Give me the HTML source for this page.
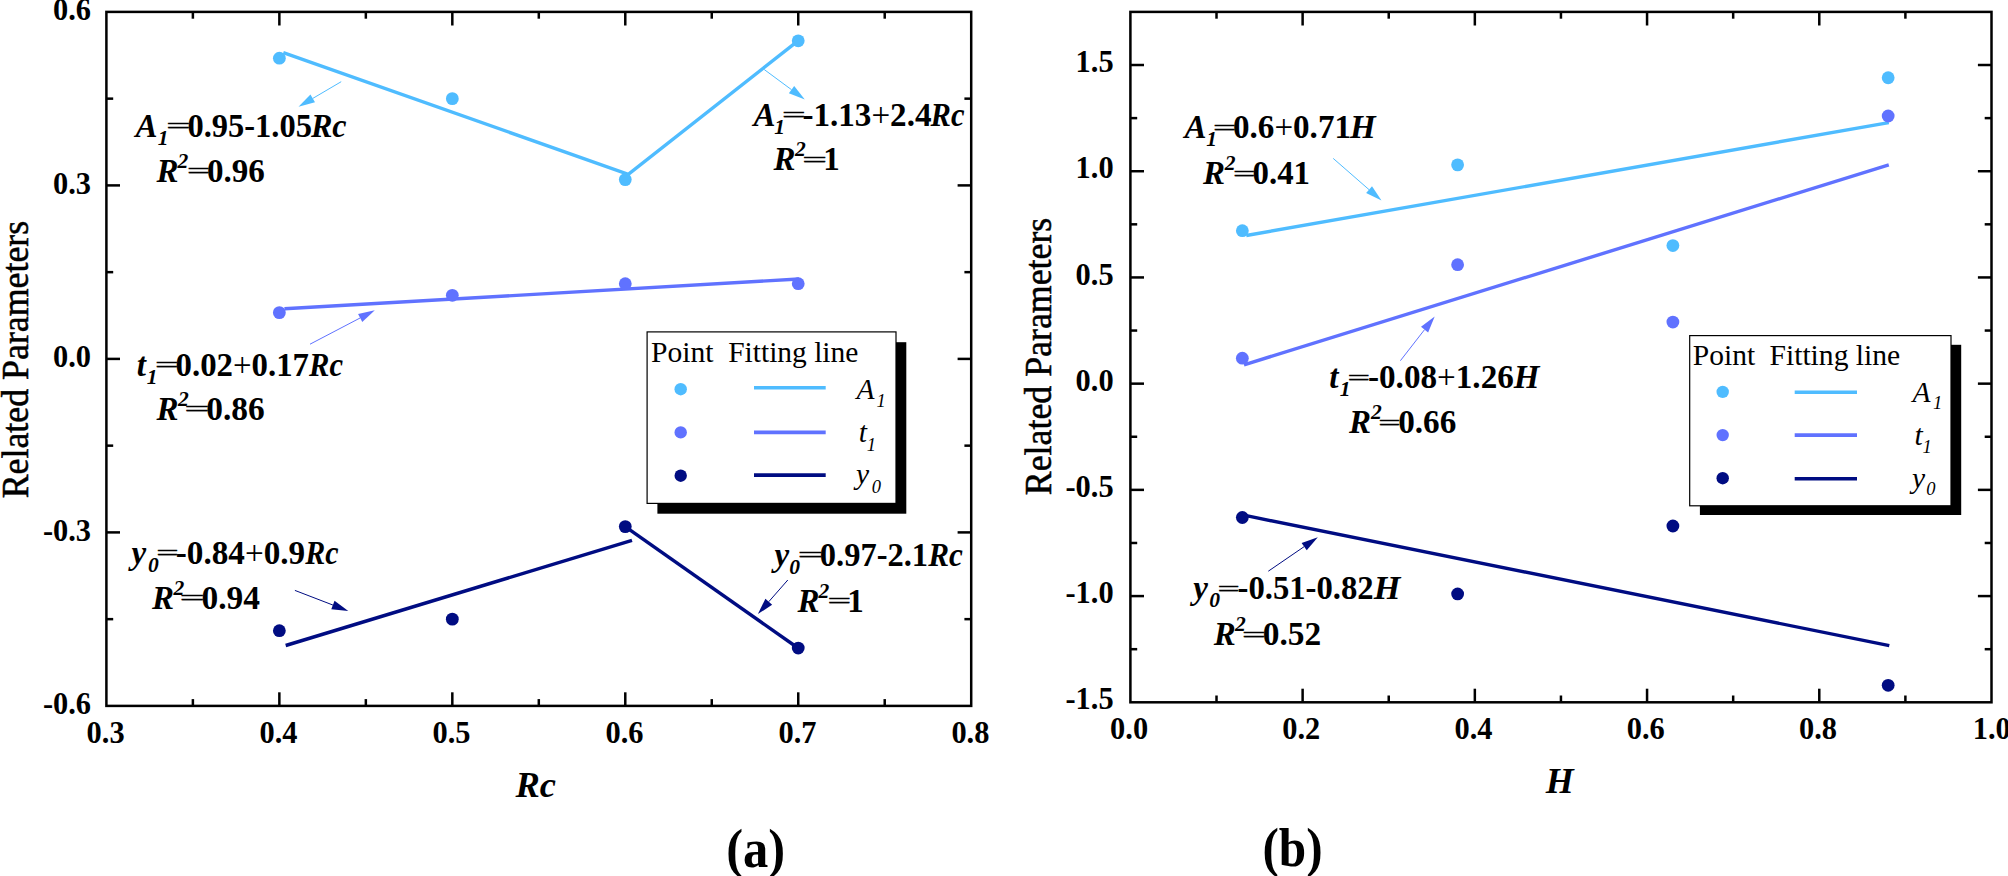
<!DOCTYPE html>
<html lang="en"><head><meta charset="utf-8"><title>Related Parameters fitting plots</title>
<style>
html,body{margin:0;padding:0;background:#fff;}
body{width:2008px;height:876px;overflow:hidden;}
svg{display:block;font-family:'Liberation Serif', serif;}
text{white-space:pre;}
</style></head><body>
<svg width="2008" height="876" viewBox="0 0 2008 876">
<rect width="2008" height="876" fill="#fff"/>
<rect x="106.40" y="11.90" width="864.80" height="694.00" fill="none" stroke="#000" stroke-width="2.5"/>
<line x1="279.36" y1="705.90" x2="279.36" y2="692.30" stroke="#000" stroke-width="2.5" stroke-linecap="butt"/>
<line x1="279.36" y1="11.90" x2="279.36" y2="25.50" stroke="#000" stroke-width="2.5" stroke-linecap="butt"/>
<line x1="452.32" y1="705.90" x2="452.32" y2="692.30" stroke="#000" stroke-width="2.5" stroke-linecap="butt"/>
<line x1="452.32" y1="11.90" x2="452.32" y2="25.50" stroke="#000" stroke-width="2.5" stroke-linecap="butt"/>
<line x1="625.28" y1="705.90" x2="625.28" y2="692.30" stroke="#000" stroke-width="2.5" stroke-linecap="butt"/>
<line x1="625.28" y1="11.90" x2="625.28" y2="25.50" stroke="#000" stroke-width="2.5" stroke-linecap="butt"/>
<line x1="798.24" y1="705.90" x2="798.24" y2="692.30" stroke="#000" stroke-width="2.5" stroke-linecap="butt"/>
<line x1="798.24" y1="11.90" x2="798.24" y2="25.50" stroke="#000" stroke-width="2.5" stroke-linecap="butt"/>
<line x1="192.88" y1="705.90" x2="192.88" y2="699.10" stroke="#000" stroke-width="2.5" stroke-linecap="butt"/>
<line x1="192.88" y1="11.90" x2="192.88" y2="18.70" stroke="#000" stroke-width="2.5" stroke-linecap="butt"/>
<line x1="365.84" y1="705.90" x2="365.84" y2="699.10" stroke="#000" stroke-width="2.5" stroke-linecap="butt"/>
<line x1="365.84" y1="11.90" x2="365.84" y2="18.70" stroke="#000" stroke-width="2.5" stroke-linecap="butt"/>
<line x1="538.80" y1="705.90" x2="538.80" y2="699.10" stroke="#000" stroke-width="2.5" stroke-linecap="butt"/>
<line x1="538.80" y1="11.90" x2="538.80" y2="18.70" stroke="#000" stroke-width="2.5" stroke-linecap="butt"/>
<line x1="711.76" y1="705.90" x2="711.76" y2="699.10" stroke="#000" stroke-width="2.5" stroke-linecap="butt"/>
<line x1="711.76" y1="11.90" x2="711.76" y2="18.70" stroke="#000" stroke-width="2.5" stroke-linecap="butt"/>
<line x1="884.72" y1="705.90" x2="884.72" y2="699.10" stroke="#000" stroke-width="2.5" stroke-linecap="butt"/>
<line x1="884.72" y1="11.90" x2="884.72" y2="18.70" stroke="#000" stroke-width="2.5" stroke-linecap="butt"/>
<line x1="106.40" y1="185.40" x2="120.00" y2="185.40" stroke="#000" stroke-width="2.5" stroke-linecap="butt"/>
<line x1="971.20" y1="185.40" x2="957.60" y2="185.40" stroke="#000" stroke-width="2.5" stroke-linecap="butt"/>
<line x1="106.40" y1="358.90" x2="120.00" y2="358.90" stroke="#000" stroke-width="2.5" stroke-linecap="butt"/>
<line x1="971.20" y1="358.90" x2="957.60" y2="358.90" stroke="#000" stroke-width="2.5" stroke-linecap="butt"/>
<line x1="106.40" y1="532.40" x2="120.00" y2="532.40" stroke="#000" stroke-width="2.5" stroke-linecap="butt"/>
<line x1="971.20" y1="532.40" x2="957.60" y2="532.40" stroke="#000" stroke-width="2.5" stroke-linecap="butt"/>
<line x1="106.40" y1="98.65" x2="113.20" y2="98.65" stroke="#000" stroke-width="2.5" stroke-linecap="butt"/>
<line x1="971.20" y1="98.65" x2="964.40" y2="98.65" stroke="#000" stroke-width="2.5" stroke-linecap="butt"/>
<line x1="106.40" y1="272.15" x2="113.20" y2="272.15" stroke="#000" stroke-width="2.5" stroke-linecap="butt"/>
<line x1="971.20" y1="272.15" x2="964.40" y2="272.15" stroke="#000" stroke-width="2.5" stroke-linecap="butt"/>
<line x1="106.40" y1="445.65" x2="113.20" y2="445.65" stroke="#000" stroke-width="2.5" stroke-linecap="butt"/>
<line x1="971.20" y1="445.65" x2="964.40" y2="445.65" stroke="#000" stroke-width="2.5" stroke-linecap="butt"/>
<line x1="106.40" y1="619.15" x2="113.20" y2="619.15" stroke="#000" stroke-width="2.5" stroke-linecap="butt"/>
<line x1="971.20" y1="619.15" x2="964.40" y2="619.15" stroke="#000" stroke-width="2.5" stroke-linecap="butt"/>
<text x="91.00" y="20.45" font-size="32" font-weight="bold" font-style="normal" text-anchor="end" fill="#000" textLength="38.00" lengthAdjust="spacingAndGlyphs">0.6</text>
<text x="91.00" y="193.95" font-size="32" font-weight="bold" font-style="normal" text-anchor="end" fill="#000" textLength="38.00" lengthAdjust="spacingAndGlyphs">0.3</text>
<text x="91.00" y="367.45" font-size="32" font-weight="bold" font-style="normal" text-anchor="end" fill="#000" textLength="38.00" lengthAdjust="spacingAndGlyphs">0.0</text>
<text x="91.00" y="540.95" font-size="32" font-weight="bold" font-style="normal" text-anchor="end" fill="#000" textLength="48.12" lengthAdjust="spacingAndGlyphs">-0.3</text>
<text x="91.00" y="714.45" font-size="32" font-weight="bold" font-style="normal" text-anchor="end" fill="#000" textLength="48.12" lengthAdjust="spacingAndGlyphs">-0.6</text>
<text x="105.60" y="743.20" font-size="32" font-weight="bold" font-style="normal" text-anchor="middle" fill="#000" textLength="38.00" lengthAdjust="spacingAndGlyphs">0.3</text>
<text x="278.56" y="743.20" font-size="32" font-weight="bold" font-style="normal" text-anchor="middle" fill="#000" textLength="38.00" lengthAdjust="spacingAndGlyphs">0.4</text>
<text x="451.52" y="743.20" font-size="32" font-weight="bold" font-style="normal" text-anchor="middle" fill="#000" textLength="38.00" lengthAdjust="spacingAndGlyphs">0.5</text>
<text x="624.48" y="743.20" font-size="32" font-weight="bold" font-style="normal" text-anchor="middle" fill="#000" textLength="38.00" lengthAdjust="spacingAndGlyphs">0.6</text>
<text x="797.44" y="743.20" font-size="32" font-weight="bold" font-style="normal" text-anchor="middle" fill="#000" textLength="38.00" lengthAdjust="spacingAndGlyphs">0.7</text>
<text x="970.40" y="743.20" font-size="32" font-weight="bold" font-style="normal" text-anchor="middle" fill="#000" textLength="38.00" lengthAdjust="spacingAndGlyphs">0.8</text>
<rect x="1130.40" y="11.90" width="861.10" height="690.40" fill="none" stroke="#000" stroke-width="2.5"/>
<line x1="1302.62" y1="702.30" x2="1302.62" y2="688.70" stroke="#000" stroke-width="2.5" stroke-linecap="butt"/>
<line x1="1302.62" y1="11.90" x2="1302.62" y2="25.50" stroke="#000" stroke-width="2.5" stroke-linecap="butt"/>
<line x1="1474.84" y1="702.30" x2="1474.84" y2="688.70" stroke="#000" stroke-width="2.5" stroke-linecap="butt"/>
<line x1="1474.84" y1="11.90" x2="1474.84" y2="25.50" stroke="#000" stroke-width="2.5" stroke-linecap="butt"/>
<line x1="1647.06" y1="702.30" x2="1647.06" y2="688.70" stroke="#000" stroke-width="2.5" stroke-linecap="butt"/>
<line x1="1647.06" y1="11.90" x2="1647.06" y2="25.50" stroke="#000" stroke-width="2.5" stroke-linecap="butt"/>
<line x1="1819.28" y1="702.30" x2="1819.28" y2="688.70" stroke="#000" stroke-width="2.5" stroke-linecap="butt"/>
<line x1="1819.28" y1="11.90" x2="1819.28" y2="25.50" stroke="#000" stroke-width="2.5" stroke-linecap="butt"/>
<line x1="1216.51" y1="702.30" x2="1216.51" y2="695.50" stroke="#000" stroke-width="2.5" stroke-linecap="butt"/>
<line x1="1216.51" y1="11.90" x2="1216.51" y2="18.70" stroke="#000" stroke-width="2.5" stroke-linecap="butt"/>
<line x1="1388.73" y1="702.30" x2="1388.73" y2="695.50" stroke="#000" stroke-width="2.5" stroke-linecap="butt"/>
<line x1="1388.73" y1="11.90" x2="1388.73" y2="18.70" stroke="#000" stroke-width="2.5" stroke-linecap="butt"/>
<line x1="1560.95" y1="702.30" x2="1560.95" y2="695.50" stroke="#000" stroke-width="2.5" stroke-linecap="butt"/>
<line x1="1560.95" y1="11.90" x2="1560.95" y2="18.70" stroke="#000" stroke-width="2.5" stroke-linecap="butt"/>
<line x1="1733.17" y1="702.30" x2="1733.17" y2="695.50" stroke="#000" stroke-width="2.5" stroke-linecap="butt"/>
<line x1="1733.17" y1="11.90" x2="1733.17" y2="18.70" stroke="#000" stroke-width="2.5" stroke-linecap="butt"/>
<line x1="1905.39" y1="702.30" x2="1905.39" y2="695.50" stroke="#000" stroke-width="2.5" stroke-linecap="butt"/>
<line x1="1905.39" y1="11.90" x2="1905.39" y2="18.70" stroke="#000" stroke-width="2.5" stroke-linecap="butt"/>
<line x1="1130.40" y1="65.01" x2="1144.00" y2="65.01" stroke="#000" stroke-width="2.5" stroke-linecap="butt"/>
<line x1="1991.50" y1="65.01" x2="1977.90" y2="65.01" stroke="#000" stroke-width="2.5" stroke-linecap="butt"/>
<line x1="1130.40" y1="171.22" x2="1144.00" y2="171.22" stroke="#000" stroke-width="2.5" stroke-linecap="butt"/>
<line x1="1991.50" y1="171.22" x2="1977.90" y2="171.22" stroke="#000" stroke-width="2.5" stroke-linecap="butt"/>
<line x1="1130.40" y1="277.44" x2="1144.00" y2="277.44" stroke="#000" stroke-width="2.5" stroke-linecap="butt"/>
<line x1="1991.50" y1="277.44" x2="1977.90" y2="277.44" stroke="#000" stroke-width="2.5" stroke-linecap="butt"/>
<line x1="1130.40" y1="383.65" x2="1144.00" y2="383.65" stroke="#000" stroke-width="2.5" stroke-linecap="butt"/>
<line x1="1991.50" y1="383.65" x2="1977.90" y2="383.65" stroke="#000" stroke-width="2.5" stroke-linecap="butt"/>
<line x1="1130.40" y1="489.87" x2="1144.00" y2="489.87" stroke="#000" stroke-width="2.5" stroke-linecap="butt"/>
<line x1="1991.50" y1="489.87" x2="1977.90" y2="489.87" stroke="#000" stroke-width="2.5" stroke-linecap="butt"/>
<line x1="1130.40" y1="596.08" x2="1144.00" y2="596.08" stroke="#000" stroke-width="2.5" stroke-linecap="butt"/>
<line x1="1991.50" y1="596.08" x2="1977.90" y2="596.08" stroke="#000" stroke-width="2.5" stroke-linecap="butt"/>
<line x1="1130.40" y1="118.12" x2="1137.20" y2="118.12" stroke="#000" stroke-width="2.5" stroke-linecap="butt"/>
<line x1="1991.50" y1="118.12" x2="1984.70" y2="118.12" stroke="#000" stroke-width="2.5" stroke-linecap="butt"/>
<line x1="1130.40" y1="224.33" x2="1137.20" y2="224.33" stroke="#000" stroke-width="2.5" stroke-linecap="butt"/>
<line x1="1991.50" y1="224.33" x2="1984.70" y2="224.33" stroke="#000" stroke-width="2.5" stroke-linecap="butt"/>
<line x1="1130.40" y1="330.55" x2="1137.20" y2="330.55" stroke="#000" stroke-width="2.5" stroke-linecap="butt"/>
<line x1="1991.50" y1="330.55" x2="1984.70" y2="330.55" stroke="#000" stroke-width="2.5" stroke-linecap="butt"/>
<line x1="1130.40" y1="436.76" x2="1137.20" y2="436.76" stroke="#000" stroke-width="2.5" stroke-linecap="butt"/>
<line x1="1991.50" y1="436.76" x2="1984.70" y2="436.76" stroke="#000" stroke-width="2.5" stroke-linecap="butt"/>
<line x1="1130.40" y1="542.98" x2="1137.20" y2="542.98" stroke="#000" stroke-width="2.5" stroke-linecap="butt"/>
<line x1="1991.50" y1="542.98" x2="1984.70" y2="542.98" stroke="#000" stroke-width="2.5" stroke-linecap="butt"/>
<line x1="1130.40" y1="649.19" x2="1137.20" y2="649.19" stroke="#000" stroke-width="2.5" stroke-linecap="butt"/>
<line x1="1991.50" y1="649.19" x2="1984.70" y2="649.19" stroke="#000" stroke-width="2.5" stroke-linecap="butt"/>
<text x="1113.60" y="72.11" font-size="32" font-weight="bold" font-style="normal" text-anchor="end" fill="#000" textLength="38.00" lengthAdjust="spacingAndGlyphs">1.5</text>
<text x="1113.60" y="178.32" font-size="32" font-weight="bold" font-style="normal" text-anchor="end" fill="#000" textLength="38.00" lengthAdjust="spacingAndGlyphs">1.0</text>
<text x="1113.60" y="284.54" font-size="32" font-weight="bold" font-style="normal" text-anchor="end" fill="#000" textLength="38.00" lengthAdjust="spacingAndGlyphs">0.5</text>
<text x="1113.60" y="390.75" font-size="32" font-weight="bold" font-style="normal" text-anchor="end" fill="#000" textLength="38.00" lengthAdjust="spacingAndGlyphs">0.0</text>
<text x="1113.60" y="496.97" font-size="32" font-weight="bold" font-style="normal" text-anchor="end" fill="#000" textLength="48.12" lengthAdjust="spacingAndGlyphs">-0.5</text>
<text x="1113.60" y="603.18" font-size="32" font-weight="bold" font-style="normal" text-anchor="end" fill="#000" textLength="48.12" lengthAdjust="spacingAndGlyphs">-1.0</text>
<text x="1113.60" y="709.40" font-size="32" font-weight="bold" font-style="normal" text-anchor="end" fill="#000" textLength="48.12" lengthAdjust="spacingAndGlyphs">-1.5</text>
<text x="1129.10" y="739.00" font-size="32" font-weight="bold" font-style="normal" text-anchor="middle" fill="#000" textLength="38.00" lengthAdjust="spacingAndGlyphs">0.0</text>
<text x="1301.32" y="739.00" font-size="32" font-weight="bold" font-style="normal" text-anchor="middle" fill="#000" textLength="38.00" lengthAdjust="spacingAndGlyphs">0.2</text>
<text x="1473.54" y="739.00" font-size="32" font-weight="bold" font-style="normal" text-anchor="middle" fill="#000" textLength="38.00" lengthAdjust="spacingAndGlyphs">0.4</text>
<text x="1645.76" y="739.00" font-size="32" font-weight="bold" font-style="normal" text-anchor="middle" fill="#000" textLength="38.00" lengthAdjust="spacingAndGlyphs">0.6</text>
<text x="1817.98" y="739.00" font-size="32" font-weight="bold" font-style="normal" text-anchor="middle" fill="#000" textLength="38.00" lengthAdjust="spacingAndGlyphs">0.8</text>
<text x="1991.70" y="739.00" font-size="32" font-weight="bold" font-style="normal" text-anchor="middle" fill="#000" textLength="38.00" lengthAdjust="spacingAndGlyphs">1.0</text>
<g transform="translate(28.40,498.30) rotate(-90) scale(1,1.08)"><text x="0" y="0" font-size="35.6" stroke="#000" stroke-width="0.5" textLength="277.50" lengthAdjust="spacingAndGlyphs">Related Parameters</text></g>
<g transform="translate(1051.10,495.20) rotate(-90) scale(1,1.08)"><text x="0" y="0" font-size="35.6" stroke="#000" stroke-width="0.5" textLength="277.50" lengthAdjust="spacingAndGlyphs">Related Parameters</text></g>
<text x="535.80" y="796.80" font-size="36.5" font-weight="bold" font-style="italic" text-anchor="middle" fill="#000">Rc</text>
<text x="1559.80" y="793.40" font-size="36" font-weight="bold" font-style="italic" text-anchor="middle" fill="#000">H</text>
<text x="726.20" y="866.50" font-size="55" font-weight="bold" font-style="normal" text-anchor="start" fill="#000" textLength="59.00" lengthAdjust="spacingAndGlyphs">(a)</text>
<text x="1262.40" y="866.30" font-size="55" font-weight="bold" font-style="normal" text-anchor="start" fill="#000" textLength="60.20" lengthAdjust="spacingAndGlyphs">(b)</text>
<polyline points="283.3,52.6 628.3,174.3 798,40.8" fill="none" stroke="#4FBCFF" stroke-width="3.4" stroke-linejoin="miter"/>
<line x1="284.40" y1="308.80" x2="798.80" y2="279.00" stroke="#6072FF" stroke-width="3.4" stroke-linecap="butt"/>
<line x1="285.70" y1="645.50" x2="632.00" y2="540.30" stroke="#000C82" stroke-width="3.4" stroke-linecap="butt"/>
<line x1="629.50" y1="529.60" x2="798.00" y2="648.00" stroke="#000C82" stroke-width="3.4" stroke-linecap="butt"/>
<circle cx="279.36" cy="58.17" r="6.4" fill="#4FBCFF"/>
<circle cx="452.32" cy="98.65" r="6.4" fill="#4FBCFF"/>
<circle cx="625.28" cy="179.62" r="6.4" fill="#4FBCFF"/>
<circle cx="798.24" cy="40.82" r="6.4" fill="#4FBCFF"/>
<circle cx="279.36" cy="312.63" r="6.4" fill="#6072FF"/>
<circle cx="452.32" cy="295.28" r="6.4" fill="#6072FF"/>
<circle cx="625.28" cy="283.72" r="6.4" fill="#6072FF"/>
<circle cx="798.24" cy="283.72" r="6.4" fill="#6072FF"/>
<circle cx="279.36" cy="630.72" r="6.4" fill="#000C82"/>
<circle cx="452.32" cy="619.15" r="6.4" fill="#000C82"/>
<circle cx="625.28" cy="526.62" r="6.4" fill="#000C82"/>
<circle cx="798.24" cy="648.07" r="6.4" fill="#000C82"/>
<line x1="341.20" y1="81.70" x2="312.72" y2="98.44" stroke="#4FBCFF" stroke-width="1.0" stroke-linecap="butt"/>
<polygon points="298.50,106.80 310.44,94.56 315.00,102.32" fill="#4FBCFF"/>
<line x1="764.20" y1="69.50" x2="791.53" y2="89.69" stroke="#4FBCFF" stroke-width="1.0" stroke-linecap="butt"/>
<polygon points="804.80,99.50 788.86,93.31 794.20,86.08" fill="#4FBCFF"/>
<line x1="310.00" y1="344.20" x2="360.18" y2="317.95" stroke="#6072FF" stroke-width="1.0" stroke-linecap="butt"/>
<polygon points="374.80,310.30 362.27,321.94 358.09,313.96" fill="#6072FF"/>
<line x1="294.90" y1="590.40" x2="332.91" y2="605.06" stroke="#000C82" stroke-width="1.0" stroke-linecap="butt"/>
<polygon points="348.30,611.00 331.29,609.26 334.53,600.86" fill="#000C82"/>
<line x1="787.80" y1="580.00" x2="768.78" y2="601.69" stroke="#000C82" stroke-width="1.0" stroke-linecap="butt"/>
<polygon points="757.90,614.10 765.39,598.73 772.16,604.66" fill="#000C82"/>
<line x1="1246.30" y1="235.50" x2="1888.80" y2="122.60" stroke="#4FBCFF" stroke-width="3.4" stroke-linecap="butt"/>
<line x1="1244.00" y1="364.80" x2="1888.80" y2="164.80" stroke="#6072FF" stroke-width="3.4" stroke-linecap="butt"/>
<line x1="1246.30" y1="515.70" x2="1889.30" y2="645.60" stroke="#000C82" stroke-width="3.4" stroke-linecap="butt"/>
<circle cx="1242.34" cy="230.70" r="6.4" fill="#4FBCFF"/>
<circle cx="1457.62" cy="164.85" r="6.4" fill="#4FBCFF"/>
<circle cx="1672.89" cy="245.57" r="6.4" fill="#4FBCFF"/>
<circle cx="1888.17" cy="77.75" r="6.4" fill="#4FBCFF"/>
<circle cx="1242.34" cy="358.16" r="6.4" fill="#6072FF"/>
<circle cx="1457.62" cy="264.69" r="6.4" fill="#6072FF"/>
<circle cx="1672.89" cy="322.05" r="6.4" fill="#6072FF"/>
<circle cx="1888.17" cy="115.99" r="6.4" fill="#6072FF"/>
<circle cx="1242.34" cy="517.49" r="6.4" fill="#000C82"/>
<circle cx="1457.62" cy="593.96" r="6.4" fill="#000C82"/>
<circle cx="1672.89" cy="525.98" r="6.4" fill="#000C82"/>
<circle cx="1888.17" cy="685.31" r="6.4" fill="#000C82"/>
<line x1="1333.20" y1="158.40" x2="1369.06" y2="189.66" stroke="#4FBCFF" stroke-width="1.0" stroke-linecap="butt"/>
<polygon points="1381.50,200.50 1366.10,193.05 1372.02,186.27" fill="#4FBCFF"/>
<line x1="1400.40" y1="360.70" x2="1424.57" y2="329.62" stroke="#6072FF" stroke-width="1.0" stroke-linecap="butt"/>
<polygon points="1434.70,316.60 1428.12,332.39 1421.02,326.86" fill="#6072FF"/>
<line x1="1268.30" y1="571.20" x2="1304.19" y2="546.62" stroke="#000C82" stroke-width="1.0" stroke-linecap="butt"/>
<polygon points="1317.80,537.30 1306.73,550.34 1301.64,542.91" fill="#000C82"/>
<text x="135.60" y="136.70" font-size="33" font-weight="bold" font-style="italic" text-anchor="start" fill="#000">A</text>
<text x="157.70" y="144.70" font-size="21.5" font-weight="bold" font-style="italic" text-anchor="start" fill="#000">1</text>
<text x="166.15" y="132.80" font-size="22" font-weight="normal" font-style="normal" text-anchor="start" fill="#000" textLength="24.27" lengthAdjust="spacingAndGlyphs" stroke="#000" stroke-width="0.45">=</text>
<text x="187.40" y="136.70" font-size="33" font-weight="bold" font-style="normal" text-anchor="start" fill="#000" textLength="124.50" lengthAdjust="spacingAndGlyphs">0.95-1.05</text>
<text x="310.90" y="136.70" font-size="33" font-weight="bold" font-style="italic" text-anchor="start" fill="#000" textLength="35.70" lengthAdjust="spacingAndGlyphs">Rc</text>
<text x="156.40" y="182.30" font-size="33" font-weight="bold" font-style="italic" text-anchor="start" fill="#000">R</text>
<text x="177.50" y="168.30" font-size="21.5" font-weight="bold" font-style="italic" text-anchor="start" fill="#000">2</text>
<text x="186.95" y="178.40" font-size="22" font-weight="normal" font-style="normal" text-anchor="start" fill="#000" textLength="23.06" lengthAdjust="spacingAndGlyphs" stroke="#000" stroke-width="0.45">=</text>
<text x="206.90" y="182.30" font-size="33" font-weight="bold" font-style="normal" text-anchor="start" fill="#000" textLength="57.90" lengthAdjust="spacingAndGlyphs">0.96</text>
<text x="753.50" y="126.10" font-size="33" font-weight="bold" font-style="italic" text-anchor="start" fill="#000">A</text>
<text x="774.30" y="134.10" font-size="21.5" font-weight="bold" font-style="italic" text-anchor="start" fill="#000">1</text>
<text x="781.90" y="122.20" font-size="22" font-weight="normal" font-style="normal" text-anchor="start" fill="#000" textLength="23.67" lengthAdjust="spacingAndGlyphs" stroke="#000" stroke-width="0.45">=</text>
<text x="802.40" y="126.10" font-size="33" font-weight="bold" font-style="normal" text-anchor="start" fill="#000" textLength="129.10" lengthAdjust="spacingAndGlyphs">-1.13<tspan font-weight="normal">+</tspan>2.4</text>
<text x="930.50" y="126.10" font-size="33" font-weight="bold" font-style="italic" text-anchor="start" fill="#000" textLength="34.00" lengthAdjust="spacingAndGlyphs">Rc</text>
<text x="773.40" y="170.40" font-size="33" font-weight="bold" font-style="italic" text-anchor="start" fill="#000">R</text>
<text x="795.00" y="156.40" font-size="21.5" font-weight="bold" font-style="italic" text-anchor="start" fill="#000">2</text>
<text x="802.20" y="166.50" font-size="22" font-weight="normal" font-style="normal" text-anchor="start" fill="#000" textLength="24.76" lengthAdjust="spacingAndGlyphs" stroke="#000" stroke-width="0.45">=</text>
<text x="823.20" y="170.40" font-size="33" font-weight="bold" font-style="normal" text-anchor="start" fill="#000">1</text>
<text x="136.80" y="376.10" font-size="33" font-weight="bold" font-style="italic" text-anchor="start" fill="#000">t</text>
<text x="146.70" y="384.10" font-size="21.5" font-weight="bold" font-style="italic" text-anchor="start" fill="#000">1</text>
<text x="154.90" y="372.20" font-size="22" font-weight="normal" font-style="normal" text-anchor="start" fill="#000" textLength="23.67" lengthAdjust="spacingAndGlyphs" stroke="#000" stroke-width="0.45">=</text>
<text x="175.50" y="376.10" font-size="33" font-weight="bold" font-style="normal" text-anchor="start" fill="#000" textLength="133.50" lengthAdjust="spacingAndGlyphs">0.02<tspan font-weight="normal">+</tspan>0.17</text>
<text x="309.00" y="376.10" font-size="33" font-weight="bold" font-style="italic" text-anchor="start" fill="#000" textLength="34.00" lengthAdjust="spacingAndGlyphs">Rc</text>
<text x="156.60" y="420.30" font-size="33" font-weight="bold" font-style="italic" text-anchor="start" fill="#000">R</text>
<text x="178.00" y="406.30" font-size="21.5" font-weight="bold" font-style="italic" text-anchor="start" fill="#000">2</text>
<text x="184.59" y="416.40" font-size="22" font-weight="normal" font-style="normal" text-anchor="start" fill="#000" textLength="24.88" lengthAdjust="spacingAndGlyphs" stroke="#000" stroke-width="0.45">=</text>
<text x="206.30" y="420.30" font-size="33" font-weight="bold" font-style="normal" text-anchor="start" fill="#000" textLength="58.50" lengthAdjust="spacingAndGlyphs">0.86</text>
<text x="131.40" y="563.70" font-size="33" font-weight="bold" font-style="italic" text-anchor="start" fill="#000">y</text>
<text x="148.00" y="571.70" font-size="21.5" font-weight="bold" font-style="italic" text-anchor="start" fill="#000">0</text>
<text x="156.31" y="559.80" font-size="22" font-weight="normal" font-style="normal" text-anchor="start" fill="#000" textLength="22.45" lengthAdjust="spacingAndGlyphs" stroke="#000" stroke-width="0.45">=</text>
<text x="175.80" y="563.70" font-size="33" font-weight="bold" font-style="normal" text-anchor="start" fill="#000" textLength="129.40" lengthAdjust="spacingAndGlyphs">-0.84<tspan font-weight="normal">+</tspan>0.9</text>
<text x="305.20" y="563.70" font-size="33" font-weight="bold" font-style="italic" text-anchor="start" fill="#000" textLength="33.30" lengthAdjust="spacingAndGlyphs">Rc</text>
<text x="152.10" y="608.50" font-size="33" font-weight="bold" font-style="italic" text-anchor="start" fill="#000">R</text>
<text x="173.50" y="594.50" font-size="21.5" font-weight="bold" font-style="italic" text-anchor="start" fill="#000">2</text>
<text x="179.79" y="604.60" font-size="22" font-weight="normal" font-style="normal" text-anchor="start" fill="#000" textLength="24.88" lengthAdjust="spacingAndGlyphs" stroke="#000" stroke-width="0.45">=</text>
<text x="201.50" y="608.50" font-size="33" font-weight="bold" font-style="normal" text-anchor="start" fill="#000" textLength="58.50" lengthAdjust="spacingAndGlyphs">0.94</text>
<text x="774.50" y="565.90" font-size="33" font-weight="bold" font-style="italic" text-anchor="start" fill="#000">y</text>
<text x="789.30" y="573.90" font-size="21.5" font-weight="bold" font-style="italic" text-anchor="start" fill="#000">0</text>
<text x="797.76" y="562.00" font-size="22" font-weight="normal" font-style="normal" text-anchor="start" fill="#000" textLength="25.24" lengthAdjust="spacingAndGlyphs" stroke="#000" stroke-width="0.45">=</text>
<text x="819.80" y="565.90" font-size="33" font-weight="bold" font-style="normal" text-anchor="start" fill="#000" textLength="108.30" lengthAdjust="spacingAndGlyphs">0.97-2.1</text>
<text x="928.20" y="565.90" font-size="33" font-weight="bold" font-style="italic" text-anchor="start" fill="#000" textLength="34.70" lengthAdjust="spacingAndGlyphs">Rc</text>
<text x="797.60" y="611.50" font-size="33" font-weight="bold" font-style="italic" text-anchor="start" fill="#000">R</text>
<text x="818.50" y="597.50" font-size="21.5" font-weight="bold" font-style="italic" text-anchor="start" fill="#000">2</text>
<text x="827.40" y="607.60" font-size="22" font-weight="normal" font-style="normal" text-anchor="start" fill="#000" textLength="23.67" lengthAdjust="spacingAndGlyphs" stroke="#000" stroke-width="0.45">=</text>
<text x="847.30" y="611.50" font-size="33" font-weight="bold" font-style="normal" text-anchor="start" fill="#000">1</text>
<text x="1184.60" y="137.70" font-size="33" font-weight="bold" font-style="italic" text-anchor="start" fill="#000">A</text>
<text x="1206.20" y="145.70" font-size="21.5" font-weight="bold" font-style="italic" text-anchor="start" fill="#000">1</text>
<text x="1212.95" y="134.90" font-size="22" font-weight="normal" font-style="normal" text-anchor="start" fill="#000" textLength="23.06" lengthAdjust="spacingAndGlyphs" stroke="#000" stroke-width="0.45">=</text>
<text x="1233.00" y="137.70" font-size="33" font-weight="bold" font-style="normal" text-anchor="start" fill="#000" textLength="118.00" lengthAdjust="spacingAndGlyphs">0.6<tspan font-weight="normal">+</tspan>0.71</text>
<text x="1350.00" y="137.70" font-size="33" font-weight="bold" font-style="italic" text-anchor="start" fill="#000" textLength="25.70" lengthAdjust="spacingAndGlyphs">H</text>
<text x="1203.10" y="183.50" font-size="33" font-weight="bold" font-style="italic" text-anchor="start" fill="#000">R</text>
<text x="1224.70" y="169.50" font-size="21.5" font-weight="bold" font-style="italic" text-anchor="start" fill="#000">2</text>
<text x="1233.01" y="180.70" font-size="22" font-weight="normal" font-style="normal" text-anchor="start" fill="#000" textLength="22.45" lengthAdjust="spacingAndGlyphs" stroke="#000" stroke-width="0.45">=</text>
<text x="1252.50" y="183.50" font-size="33" font-weight="bold" font-style="normal" text-anchor="start" fill="#000" textLength="57.50" lengthAdjust="spacingAndGlyphs">0.41</text>
<text x="1329.30" y="387.90" font-size="33" font-weight="bold" font-style="italic" text-anchor="start" fill="#000">t</text>
<text x="1339.80" y="395.90" font-size="21.5" font-weight="bold" font-style="italic" text-anchor="start" fill="#000">1</text>
<text x="1347.40" y="385.10" font-size="22" font-weight="normal" font-style="normal" text-anchor="start" fill="#000" textLength="22.57" lengthAdjust="spacingAndGlyphs" stroke="#000" stroke-width="0.45">=</text>
<text x="1368.00" y="387.90" font-size="33" font-weight="bold" font-style="normal" text-anchor="start" fill="#000" textLength="145.80" lengthAdjust="spacingAndGlyphs">-0.08<tspan font-weight="normal">+</tspan>1.26</text>
<text x="1513.80" y="387.90" font-size="33" font-weight="bold" font-style="italic" text-anchor="start" fill="#000" textLength="25.70" lengthAdjust="spacingAndGlyphs">H</text>
<text x="1349.00" y="433.10" font-size="33" font-weight="bold" font-style="italic" text-anchor="start" fill="#000">R</text>
<text x="1371.00" y="419.10" font-size="21.5" font-weight="bold" font-style="italic" text-anchor="start" fill="#000">2</text>
<text x="1378.31" y="430.30" font-size="22" font-weight="normal" font-style="normal" text-anchor="start" fill="#000" textLength="22.45" lengthAdjust="spacingAndGlyphs" stroke="#000" stroke-width="0.45">=</text>
<text x="1398.20" y="433.10" font-size="33" font-weight="bold" font-style="normal" text-anchor="start" fill="#000" textLength="58.10" lengthAdjust="spacingAndGlyphs">0.66</text>
<text x="1193.30" y="598.90" font-size="33" font-weight="bold" font-style="italic" text-anchor="start" fill="#000">y</text>
<text x="1209.30" y="606.90" font-size="21.5" font-weight="bold" font-style="italic" text-anchor="start" fill="#000">0</text>
<text x="1217.62" y="596.10" font-size="22" font-weight="normal" font-style="normal" text-anchor="start" fill="#000" textLength="22.33" lengthAdjust="spacingAndGlyphs" stroke="#000" stroke-width="0.45">=</text>
<text x="1237.50" y="598.90" font-size="33" font-weight="bold" font-style="normal" text-anchor="start" fill="#000" textLength="136.20" lengthAdjust="spacingAndGlyphs">-0.51-0.82</text>
<text x="1373.70" y="598.90" font-size="33" font-weight="bold" font-style="italic" text-anchor="start" fill="#000" textLength="26.70" lengthAdjust="spacingAndGlyphs">H</text>
<text x="1213.80" y="645.10" font-size="33" font-weight="bold" font-style="italic" text-anchor="start" fill="#000">R</text>
<text x="1235.00" y="631.10" font-size="21.5" font-weight="bold" font-style="italic" text-anchor="start" fill="#000">2</text>
<text x="1242.09" y="642.30" font-size="22" font-weight="normal" font-style="normal" text-anchor="start" fill="#000" textLength="23.79" lengthAdjust="spacingAndGlyphs" stroke="#000" stroke-width="0.45">=</text>
<text x="1262.80" y="645.10" font-size="33" font-weight="bold" font-style="normal" text-anchor="start" fill="#000" textLength="58.50" lengthAdjust="spacingAndGlyphs">0.52</text>
<rect x="657.40" y="342.20" width="248.90" height="171.50" fill="#000"/>
<rect x="647.10" y="331.90" width="248.90" height="171.50" fill="#fff" stroke="#000" stroke-width="1.2"/>
<text x="651.00" y="362.20" font-size="29.3" font-weight="normal" font-style="normal" text-anchor="start" fill="#000" textLength="62.40" lengthAdjust="spacingAndGlyphs">Point</text>
<text x="728.20" y="362.20" font-size="29.3" font-weight="normal" font-style="normal" text-anchor="start" fill="#000" textLength="130.20" lengthAdjust="spacingAndGlyphs">Fitting line</text>
<circle cx="680.70" cy="389.20" r="6.2" fill="#4FBCFF"/>
<line x1="754.00" y1="387.80" x2="825.70" y2="387.80" stroke="#4FBCFF" stroke-width="3.6" stroke-linecap="butt"/>
<circle cx="680.70" cy="432.40" r="6.2" fill="#6072FF"/>
<line x1="754.00" y1="432.40" x2="825.70" y2="432.40" stroke="#6072FF" stroke-width="3.6" stroke-linecap="butt"/>
<circle cx="680.70" cy="475.70" r="6.2" fill="#000C82"/>
<line x1="754.00" y1="475.10" x2="825.70" y2="475.10" stroke="#000C82" stroke-width="3.6" stroke-linecap="butt"/>
<text x="856.50" y="399.00" font-size="29.5" font-weight="normal" font-style="italic" text-anchor="start" fill="#000">A</text>
<text x="876.50" y="406.70" font-size="18.5" font-weight="normal" font-style="italic" text-anchor="start" fill="#000">1</text>
<text x="858.80" y="442.20" font-size="29.5" font-weight="normal" font-style="italic" text-anchor="start" fill="#000">t</text>
<text x="866.80" y="450.50" font-size="18.5" font-weight="normal" font-style="italic" text-anchor="start" fill="#000">1</text>
<text x="856.00" y="483.80" font-size="29.5" font-weight="normal" font-style="italic" text-anchor="start" fill="#000">y</text>
<text x="871.80" y="492.60" font-size="18.5" font-weight="normal" font-style="italic" text-anchor="start" fill="#000">0</text>
<rect x="1699.90" y="344.80" width="261.30" height="170.20" fill="#000"/>
<rect x="1689.70" y="335.60" width="261.30" height="170.20" fill="#fff" stroke="#000" stroke-width="1.2"/>
<text x="1692.80" y="365.10" font-size="29.3" font-weight="normal" font-style="normal" text-anchor="start" fill="#000" textLength="62.30" lengthAdjust="spacingAndGlyphs">Point</text>
<text x="1769.50" y="365.10" font-size="29.3" font-weight="normal" font-style="normal" text-anchor="start" fill="#000" textLength="130.70" lengthAdjust="spacingAndGlyphs">Fitting line</text>
<circle cx="1722.70" cy="391.90" r="6.2" fill="#4FBCFF"/>
<line x1="1794.70" y1="392.30" x2="1857.00" y2="392.30" stroke="#4FBCFF" stroke-width="3.6" stroke-linecap="butt"/>
<circle cx="1722.70" cy="435.10" r="6.2" fill="#6072FF"/>
<line x1="1794.70" y1="435.10" x2="1857.00" y2="435.10" stroke="#6072FF" stroke-width="3.6" stroke-linecap="butt"/>
<circle cx="1722.70" cy="478.20" r="6.2" fill="#000C82"/>
<line x1="1794.70" y1="478.80" x2="1857.00" y2="478.80" stroke="#000C82" stroke-width="3.6" stroke-linecap="butt"/>
<text x="1912.60" y="402.20" font-size="29.5" font-weight="normal" font-style="italic" text-anchor="start" fill="#000">A</text>
<text x="1933.00" y="409.20" font-size="18.5" font-weight="normal" font-style="italic" text-anchor="start" fill="#000">1</text>
<text x="1914.50" y="445.10" font-size="29.5" font-weight="normal" font-style="italic" text-anchor="start" fill="#000">t</text>
<text x="1922.50" y="453.00" font-size="18.5" font-weight="normal" font-style="italic" text-anchor="start" fill="#000">1</text>
<text x="1912.00" y="487.80" font-size="29.5" font-weight="normal" font-style="italic" text-anchor="start" fill="#000">y</text>
<text x="1926.30" y="495.00" font-size="18.5" font-weight="normal" font-style="italic" text-anchor="start" fill="#000">0</text>
</svg>
</body></html>
